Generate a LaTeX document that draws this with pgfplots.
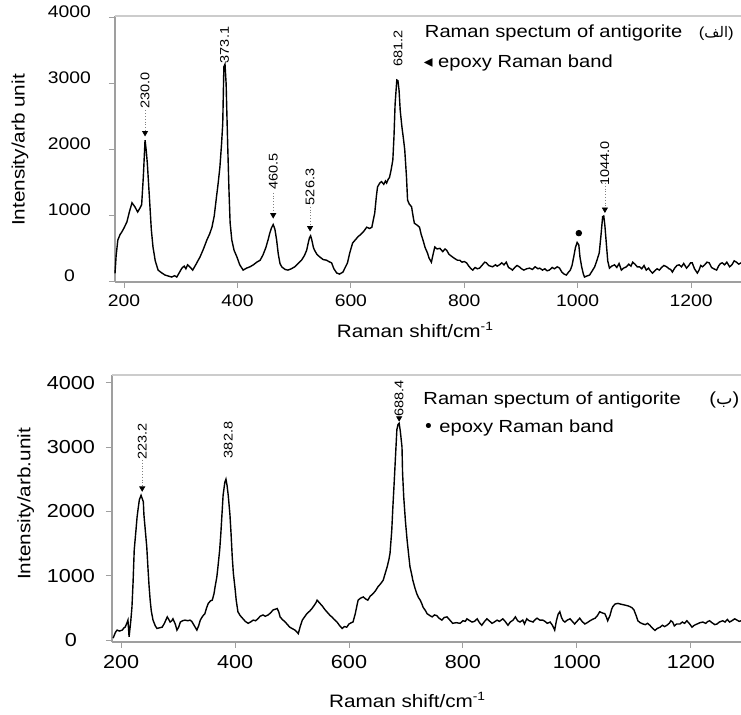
\documentclass[border=0pt]{standalone}
\usepackage{fontspec}
\setmainfont{Liberation Sans}[FakeStretch=1.15]
\newfontfamily\arabicfont[Script=Arabic]{DejaVu Sans}
\newfontfamily\symfont{DejaVu Sans}
\TeXXeTstate=1
\usepackage{pgfplots}
\pgfplotsset{compat=1.18}

\pgfplotstableread{
x y
184 130
186 400
189 636
193 720
196 757
200 820
205 910
209 1050
214 1200
219 1140
224 1060
228 1120
231 1170
234 1600
237 2150
239 2000
241 1800
245 1240
248 800
251 530
255 320
260 180
266 140
272 106
278 90
284 75
289 95
293 75
298 150
302 210
306 240
309 200
312 260
317 220
321 180
327 270
334 380
340 500
346 636
351 730
355 830
359 1000
363 1290
366 1500
369 1740
372 2100
374 2400
376 3260
378 3300
380 3000
381 2650
383 2000
385 1390
387 900
390 636
394 480
399 380
404 260
410 180
416 210
422 230
428 260
434 300
440 330
445 410
450 520
454 640
457 740
460 820
463 870
466 800
469 640
472 420
475 280
478 230
484 190
489 180
495 200
501 230
507 280
513 330
518 400
522 480
525 600
527 670
529 700
531 640
534 520
536 480
540 420
545 380
551 340
557 330
561 310
566 290
570 200
575 136
580 120
586 150
590 220
594 290
598 440
603 590
608 640
613 690
616 710
622 760
628 830
633 810
637 830
640 960
642 1040
645 1300
647 1440
651 1500
654 1520
658 1480
661 1530
663 1500
666 1560
668 1580
671 1700
674 1850
676 2200
678 2700
681 3060
683 3050
685 2900
687 2600
690 2350
693 2150
695 2000
698 1600
700 1240
703 1180
707 1140
710 980
712 890
717 860
721 830
724 720
727 640
731 520
735 440
738 360
742 300
745 420
748 530
752 500
757 510
762 460
766 500
769 480
773 420
776 400
779 380
784 350
788 330
792 330
796 300
800 310
804 290
808 240
812 200
815 180
819 220
823 200
827 210
832 260
836 300
839 290
843 250
846 240
850 230
855 260
858 240
862 260
866 290
870 260
874 300
878 220
882 200
885 180
889 220
893 250
897 230
901 200
905 180
910 200
915 210
920 190
925 230
930 200
933 210
938 180
942 200
946 170
950 180
955 220
959 200
964 230
968 210
972 150
976 120
980 105
984 150
987 180
990 250
993 380
996 520
999 600
1002 560
1004 380
1007 230
1010 120
1012 75
1016 90
1021 105
1025 160
1030 230
1034 330
1038 440
1041 700
1044 990
1046 1000
1048 850
1051 530
1053 320
1056 210
1060 240
1065 260
1069 220
1073 280
1077 180
1081 210
1086 230
1090 270
1094 240
1097 300
1101 270
1105 230
1109 230
1113 200
1117 250
1121 180
1125 210
1128 170
1132 135
1136 170
1140 200
1144 180
1148 220
1152 250
1157 230
1161 200
1164 190
1167 150
1171 210
1175 250
1179 260
1183 230
1187 280
1192 210
1196 250
1199 290
1202 290
1206 200
1211 135
1214 180
1217 250
1220 230
1224 260
1228 300
1232 290
1236 220
1240 200
1245 180
1249 250
1252 280
1255 290
1259 260
1263 300
1268 230
1272 260
1276 320
1280 300
1284 270
1288 290
}\spectrumA

\pgfplotstableread{
x y
186 30
190 120
193 155
197 140
202 155
205 190
207 200
210 260
212 310
214 50
217 300
219 510
221 900
223 1400
226 1700
228 1910
230 2050
232 2180
235 2250
237 2200
239 2150
240 1950
242 1750
245 1450
247 1140
249 850
251 620
253 450
256 310
260 220
263 180
267 190
272 200
276 260
281 360
283 330
286 280
289 300
291 330
295 250
298 155
301 200
304 280
308 300
312 310
317 300
321 310
324 290
326 260
330 200
333 155
336 220
339 310
343 370
347 410
350 500
353 570
357 610
360 620
363 720
365 830
368 980
370 1140
373 1400
375 1650
377 1950
379 2250
382 2450
384 2500
386 2400
388 2250
391 1950
393 1650
395 1300
397 1040
400 800
402 620
405 440
409 380
414 330
418 290
423 260
427 280
432 310
436 300
440 330
444 370
449 390
453 370
458 390
462 420
467 470
471 480
474 490
477 430
479 360
483 320
488 280
492 240
496 200
500 180
505 155
508 130
511 100
514 200
518 310
522 360
526 410
531 450
535 490
539 540
542 580
544 620
547 590
549 570
553 530
558 470
563 420
567 380
570 360
574 320
579 280
583 230
588 180
592 210
596 200
600 250
604 270
607 280
611 410
614 540
616 620
620 650
625 670
629 640
633 620
637 680
642 720
646 760
651 830
655 870
660 930
663 1020
667 1140
670 1250
672 1350
675 1700
677 2070
679 2400
681 2750
684 3270
686 3350
688 3370
690 3250
693 3000
694 2600
696 2230
699 1850
702 1550
705 1300
707 1140
710 1020
712 930
716 800
719 720
722 660
725 620
728 560
730 510
734 460
737 410
742 380
746 360
750 390
754 380
758 340
763 310
767 350
772 360
777 310
782 260
788 270
795 260
800 300
804 290
807 330
812 300
816 280
820 290
825 330
829 270
833 230
838 290
842 330
846 300
851 260
855 280
860 310
864 290
870 330
874 290
879 230
883 280
888 310
892 360
896 300
900 280
905 310
908 250
912 330
916 300
920 290
923 280
927 320
930 340
935 310
940 310
944 290
948 260
953 280
957 230
961 155
964 300
967 400
970 440
973 350
976 300
979 280
983 310
988 330
992 290
996 250
1000 290
1005 340
1009 290
1014 250
1018 270
1023 300
1027 320
1032 340
1036 380
1040 440
1045 420
1049 410
1052 350
1054 300
1058 380
1061 480
1063 520
1067 560
1072 570
1076 560
1081 550
1086 540
1090 530
1093 520
1097 500
1100 470
1104 380
1107 300
1111 270
1116 250
1120 240
1124 260
1128 230
1132 190
1137 150
1141 180
1146 200
1150 230
1154 210
1158 230
1162 260
1165 300
1168 280
1171 220
1175 250
1181 250
1185 280
1189 260
1193 300
1198 250
1202 200
1206 230
1211 250
1216 270
1221 280
1226 260
1230 290
1233 300
1237 270
1242 240
1246 250
1250 280
1256 300
1260 280
1264 320
1268 280
1272 300
1277 330
1281 310
1285 290
1288 300
}\spectrumB

\tikzset{
  peak/.style={rotate=90, font=\fontsize{6.3}{7}\selectfont, inner sep=0pt},
  leg/.style={anchor=west, font=\fontsize{8.75}{10}\selectfont, inner sep=0pt},
}
\pgfplotsset{
  raman/.style={
    scale only axis,
    xmin=184, xmax=1288,
    xtick={200,400,...,1200},
    ytick={0,1000,...,4000},
    axis x line*=bottom, axis y line*=left,
    axis line style={-, gray!75, line width=0.6pt},
    tick align=outside,
    major tick length=3pt,
    tick style={gray!75, line width=0.5pt},
    /pgf/number format/assume math mode=true,
    /pgf/number format/set thousands separator={},
    clip=false,
    label style={font=\fontsize{9}{10}\selectfont},
  },
  spec/.style={black, line width=0.7pt},
  arrowmark/.style={only marks, mark=triangle*, mark size=1.4pt,
    mark options={rotate=180, fill=black, draw=black}},
}

\begin{document}
\begin{tikzpicture}
\useasboundingbox (0,0) rectangle (370.5pt,357.5pt);

% (a) top panel
\begin{axis}[raman,
    at={(57.5pt,216.5pt)}, anchor=south west,
    width=313pt, height=133pt,
    ymin=0, ymax=4030,
    ticklabel style={font=\fontsize{8.4}{9}\selectfont},
    yticklabel={\makebox[21.5pt][c]{\pgfmathprintnumber{\tick}}},
    yticklabel style={yshift=3pt, xshift=-5.5pt},
    xlabel={Raman shift/cm\textsuperscript{-1}},
    xlabel style={at={(axis description cs:0.48,-0.18)}, anchor=center},
    ylabel={Intensity/arb unit},
    ylabel style={at={(axis description cs:-0.152,0.496)}, anchor=center},
]
\draw[gray!40, line width=0.6pt] (rel axis cs:0,1) -- (rel axis cs:1,1);
\addplot[spec] table[x=x, y=y] {\spectrumA};
\addplot[arrowmark] coordinates {(237,2260) (463,1015) (528,820) (1048,1100)};
\addplot[only marks, mark=*, mark size=1.4pt, black] coordinates {(1002,740)};
\addplot[densely dotted, gray] coordinates {(237,2600) (237,2300)};
\addplot[densely dotted, gray] coordinates {(463,1350) (463,1060)};
\addplot[densely dotted, gray] coordinates {(528,1140) (528,860)};
\addplot[densely dotted, gray] coordinates {(1048,1500) (1048,1140)};
\node[peak] at (axis cs:237,2900) {230.0};
\node[peak] at (axis cs:377,3590) {373.1};
\node[peak] at (axis cs:463,1675) {460.5};
\node[peak] at (axis cs:528,1440) {526.3};
\node[peak] at (axis cs:683,3540) {681.2};
\node[peak] at (axis cs:1048,1800) {1044.0};
\node[leg] at (axis cs:730,3770) {Raman spectum of antigorite};
\node[leg] at (axis cs:728,3320) {{\symfont ◂}\ epoxy Raman band};
\node[leg, font=\fontsize{7.3}{9}\selectfont] at (axis cs:1213,3770) {({\arabicfont\beginR الف\endR})};
\end{axis}

% (b) bottom panel
\begin{axis}[raman,
    at={(56pt,36.5pt)}, anchor=south west,
    width=314.5pt, height=133.5pt,
    ymin=-30, ymax=4120,
    ticklabel style={font=\fontsize{9.4}{10}\selectfont},
    yticklabel={\makebox[24pt][c]{\pgfmathprintnumber{\tick}}},
    yticklabel style={xshift=-2pt},
    xlabel={Raman shift/cm\textsuperscript{-1}},
    xlabel style={at={(axis description cs:0.47,-0.217)}, anchor=center},
    ylabel={Intensity/arb.unit},
    ylabel style={at={(axis description cs:-0.137,0.517)}, anchor=center},
]
\draw[gray!40, line width=0.6pt] (rel axis cs:0,1) -- (rel axis cs:1,1);
\addplot[spec] table[x=x, y=y] {\spectrumB};
\addplot[arrowmark] coordinates {(237,2360) (688,3450)};
\addplot[densely dotted, gray] coordinates {(237,2800) (237,2400)};
\node[peak] at (axis cs:237,3090) {223.2};
\node[peak] at (axis cs:388,3110) {382.8};
\node[peak] at (axis cs:688,3750) {688.4};
\node[leg] at (axis cs:730,3730) {Raman spectum of antigorite};
\node[leg] at (axis cs:730,3300) {{\symfont •}\ epoxy Raman band};
\node[leg] at (axis cs:1232,3730) {({\arabicfont\beginR ب\endR})};
\end{axis}
\end{tikzpicture}
\end{document}
